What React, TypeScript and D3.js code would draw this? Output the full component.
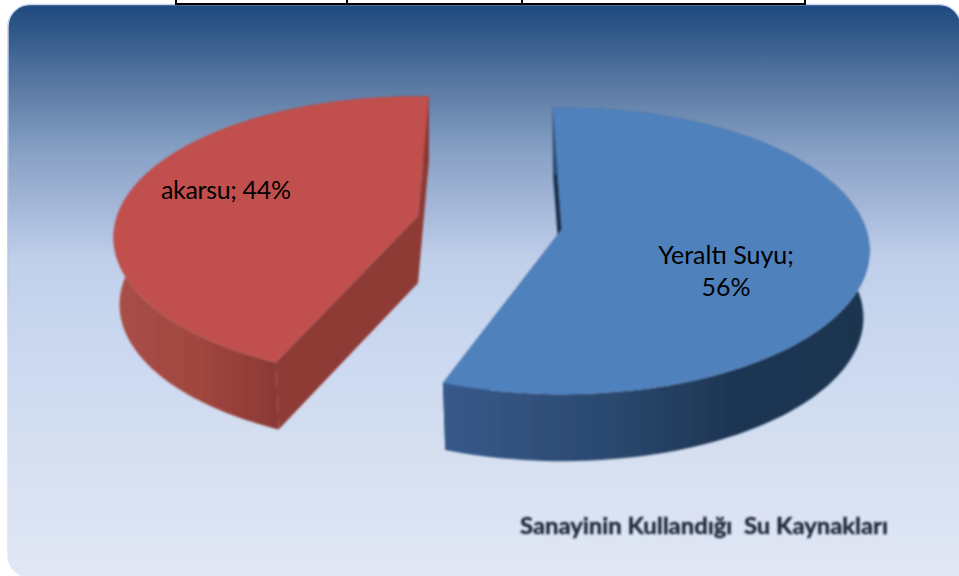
import React from "react";
import * as d3 from "d3";

const categories = ["Yeraltı Suyu", "akarsu"];
const values = [56, 44];
const startDeg = -2;
const tableTicks = [176, 347, 522, 805];

const W = 959;
const H = 576;

// each slice is pulled apart, so it gets its own screen centre, size and small turn
const centers = [
  { x: 562, y: 229 },
  { x: 418, y: 216 },
];
const radiiX = [304, 301];
const radiiY = [140, 138];
const turnDeg = [0, 4.4];
const topColors = ["#4f81bd", "#c0504d"];
const cutColors = ["#1c3350", "#8e3a36"];
const rimStops = [
  [
    [446, "#37598a"],
    [600, "#2b4a70"],
    [730, "#1e3654"],
    [870, "#1e3550"],
  ],
  [
    [114, "#a94f48"],
    [200, "#a0463f"],
    [283, "#8a3733"],
  ],
];
// y position in the picture, colour
const bgStops = [
  [8, "#214b80"],
  [30, "#2f5788"],
  [60, "#476a97"],
  [100, "#6381aa"],
  [150, "#86a0c4"],
  [200, "#a1b4d6"],
  [260, "#c0d0ea"],
  [350, "#cbd8f0"],
  [450, "#d5dff0"],
  [576, "#e1e7f5"],
];
const borderStops = [
  [4, "#c4d3ee"],
  [200, "#a9bcdf"],
  [350, "#cbd8f0"],
  [576, "#e1e7f5"],
];

const persp = 0.1525;
const depth = 67;
const bottomShrink = 0.98;

// tilted, slightly perspective view of the pie's flat disc
function project(theta: number, r: number, index: number, bottom = false) {
  const c = centers[index];
  const a = theta + (turnDeg[index] * Math.PI) / 180;
  const u = r * Math.sin(a);
  const v = r * Math.cos(a);
  const w = 1 + persp * v;
  const k = bottom ? bottomShrink : 1;
  return [c.x + (radiiX[index] * u * k) / w, c.y - (radiiY[index] * v) / w + (bottom ? depth : 0)] as [number, number];
}

const slices = d3
  .pie<number>()
  .sort(null)
  .startAngle((startDeg * Math.PI) / 180)
  .endAngle((startDeg * Math.PI) / 180 + 2 * Math.PI)(values);

const line = d3.line();

function arcSteps(a0: number, a1: number) {
  const n = 120;
  return d3.range(n + 1).map((i) => a0 + ((a1 - a0) * i) / n);
}

// chart area: only the bottom right corner is square, it runs off the page
function framePath() {
  const l = 8;
  const t = 4.5;
  const r = W + 2;
  const b = H + 1;
  const rad = 22;
  const p = d3.path();
  p.moveTo(l + rad, t);
  p.arcTo(r, t, r, t + rad, rad);
  p.lineTo(r, b);
  p.arcTo(l, b, l, b - rad, rad);
  p.arcTo(l, t, l + rad, t, rad);
  p.closePath();
  return p.toString();
}

function Slice({ index }: { index: number }) {
  const s = slices[index];
  const steps = arcSteps(s.startAngle, s.endAngle);
  const topRing = steps.map((t) => project(t, 1, index));
  const bottomRing = steps.map((t) => project(t, 1, index, true));
  const centerTop = project(0, 0, index);
  const centerBottom = project(0, 0, index, true);

  const topFace = line([centerTop, ...topRing]) + "Z";
  const rim = line([...topRing, ...bottomRing.slice().reverse()]) + "Z";
  const cutStart = line([centerTop, topRing[0], bottomRing[0], centerBottom]) + "Z";
  const n = topRing.length - 1;
  const cutEnd = line([centerTop, topRing[n], bottomRing[n], centerBottom]) + "Z";

  return (
    <g>
      <path d={cutStart} fill={cutColors[index]} />
      <path d={cutEnd} fill={cutColors[index]} />
      <path d={rim} fill={`url(#rim${index})`} />
      <path d={topFace} fill={topColors[index]} />
    </g>
  );
}

export default function App() {
  const fontFamily = "Lato, 'Noto Sans', sans-serif";
  return (
    <svg
      width={W}
      height={H}
      viewBox={`0 0 ${W} ${H}`}
      style={{ position: "fixed", left: 0, top: 0, background: "#fff" }}
    >
      <defs>
        <linearGradient id="bg" gradientUnits="userSpaceOnUse" x1={0} x2={0} y1={0} y2={H}>
          {bgStops.map(([y, col]) => (
            <stop key={y} offset={(y as number) / H} stopColor={col as string} />
          ))}
        </linearGradient>
        <linearGradient id="border" gradientUnits="userSpaceOnUse" x1={0} x2={0} y1={0} y2={H}>
          {borderStops.map(([y, col]) => (
            <stop key={y} offset={(y as number) / H} stopColor={col as string} />
          ))}
        </linearGradient>
        {rimStops.map((stops, i) => {
          const x0 = stops[0][0] as number;
          const x1 = stops[stops.length - 1][0] as number;
          return (
            <linearGradient key={i} id={`rim${i}`} gradientUnits="userSpaceOnUse" x1={x0} x2={x1} y1={0} y2={0}>
              {stops.map(([x, col]) => (
                <stop key={x} offset={((x as number) - x0) / (x1 - x0)} stopColor={col as string} />
              ))}
            </linearGradient>
          );
        })}
        <filter id="soft" filterUnits="userSpaceOnUse" x={0} y={0} width={W} height={H}>
          <feGaussianBlur stdDeviation="0.9" />
        </filter>
        <filter id="capBlur" filterUnits="userSpaceOnUse" x={480} y={490} width={470} height={80}>
          <feGaussianBlur stdDeviation="0.8" />
        </filter>
      </defs>

      <path d={framePath()} fill="url(#bg)" stroke="url(#border)" strokeWidth={1.5} />

      <g stroke="#000" strokeWidth={2} fill="none">
        <line x1={tableTicks[0] - 1} x2={tableTicks[3] + 1} y1={4} y2={4} />
        {tableTicks.map((x) => (
          <line key={x} x1={x} x2={x} y1={0} y2={4} />
        ))}
      </g>

      <g filter="url(#soft)">
        <Slice index={1} />
        <Slice index={0} />
      </g>

      <g fontFamily={fontFamily} fontSize={25} fill="#000">
        <text x={161} y={199} textLength={130}>{`${categories[1]}; ${values[1]}%`}</text>
        <text x={726} y={264} textAnchor="middle">{`${categories[0]};`}</text>
        <text x={726} y={296} textAnchor="middle">{`${values[0]}%`}</text>
      </g>

      <text
        x={520}
        y={534}
        fontFamily={fontFamily}
        fontSize={22}
        fontWeight={700}
        fill="#1f2638"
        stroke="#1f2638"
        strokeWidth={0.4}
        filter="url(#capBlur)"
        textLength={368}
        lengthAdjust="spacingAndGlyphs"
        style={{ whiteSpace: "pre" }}
      >
        Sanayinin Kullandığı  Su Kaynakları
      </text>
    </svg>
  );
}
